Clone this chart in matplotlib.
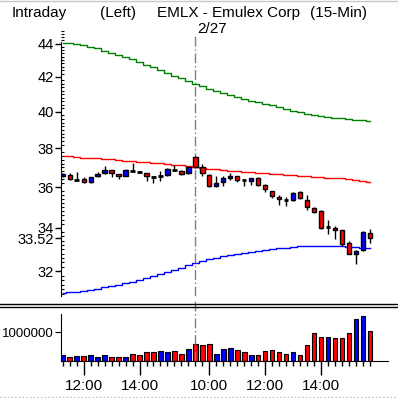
import matplotlib
matplotlib.use('Agg')
from matplotlib import pyplot as plt
from matplotlib.lines import Line2D
from matplotlib.ticker import FixedLocator, FixedFormatter, NullFormatter

plt.rcParams['font.family'] = ['Liberation Sans', 'DejaVu Sans']

# 15-min bars: 2/26 from 11:15, 2/27 from 9:30
opens = [36.58, 36.62, 36.37, 36.43, 36.25, 36.55, 36.70, 36.87, 36.67, 36.58,
         36.83, 36.75, 36.73, 36.53, 36.58, 36.63, 36.88, 36.80, 36.70, 37.55,
         37.00, 36.62, 36.03, 36.25, 36.45, 36.58, 36.37, 36.30, 36.47, 36.08,
         35.82, 35.52, 35.37, 35.33, 35.75, 35.37, 34.95, 34.80, 34.03, 34.00,
         33.88, 33.30, 32.79, 32.97, 33.77]
closes = [36.64, 36.40, 36.37, 36.25, 36.50, 36.67, 36.87, 36.70, 36.57, 36.87,
          36.83, 36.75, 36.55, 36.53, 36.58, 36.92, 36.88, 36.68, 37.03, 37.03,
          36.70, 36.03, 36.22, 36.45, 36.58, 36.38, 36.37, 36.47, 36.08, 35.90,
          35.55, 35.40, 35.37, 35.70, 35.47, 35.00, 34.78, 34.00, 34.03, 33.91,
          33.25, 32.79, 32.94, 33.81, 33.52]
highs = [36.70, 36.70, 36.75, 36.50, 36.53, 36.75, 37.07, 36.87, 36.67, 36.92,
         37.25, 36.80, 36.73, 36.58, 36.83, 36.97, 37.13, 36.87, 37.08, 37.62,
         37.20, 36.67, 36.58, 36.58, 36.70, 36.58, 36.37, 36.47, 36.50, 36.13,
         35.82, 35.58, 35.50, 35.75, 35.80, 35.58, 35.03, 34.87, 34.40, 34.07,
         33.90, 33.38, 32.95, 33.83, 33.97]
lows = [36.50, 36.37, 36.33, 36.20, 36.20, 36.50, 36.67, 36.50, 36.42, 36.55,
        36.75, 36.70, 36.30, 36.20, 36.33, 36.58, 36.83, 36.63, 36.67, 36.98,
        36.58, 36.00, 36.00, 36.03, 36.37, 36.25, 36.03, 36.08, 36.05, 35.75,
        35.45, 35.12, 35.08, 35.30, 35.42, 34.87, 34.70, 33.97, 33.69, 33.49,
        33.14, 32.76, 32.32, 32.92, 33.27]

upper_band = [44.05, 44.02, 43.99, 43.90, 43.82, 43.71, 43.58, 43.45, 43.33, 43.19,
              43.04, 42.89, 42.73, 42.56, 42.40, 42.24, 42.07, 41.91, 41.75, 41.59,
              41.45, 41.31, 41.19, 41.07, 40.96, 40.84, 40.71, 40.61, 40.53, 40.41,
              40.36, 40.26, 40.15, 40.06, 39.98, 39.90, 39.83, 39.77, 39.72, 39.68,
              39.64, 39.60, 39.56, 39.52, 39.49]
mid_line = [37.60, 37.58, 37.55, 37.52, 37.50, 37.47, 37.45, 37.42, 37.39, 37.36,
            37.33, 37.31, 37.28, 37.25, 37.22, 37.19, 37.15, 37.12, 37.08, 37.04,
            36.99, 36.93, 36.90, 36.86, 36.83, 36.80, 36.77, 36.75, 36.72, 36.70,
            36.67, 36.65, 36.62, 36.60, 36.57, 36.55, 36.53, 36.50, 36.48, 36.46,
            36.44, 36.40, 36.36, 36.32, 36.28]
lower_band = [31.04, 31.07, 31.10, 31.14, 31.18, 31.23, 31.28, 31.33, 31.39, 31.46,
              31.53, 31.60, 31.68, 31.77, 31.86, 31.95, 32.05, 32.15, 32.26, 32.37,
              32.46, 32.54, 32.61, 32.67, 32.72, 32.78, 32.84, 32.89, 32.94, 32.98,
              33.02, 33.05, 33.08, 33.11, 33.14, 33.16, 33.17, 33.17, 33.17, 33.17,
              33.15, 33.12, 33.09, 33.06, 33.04]

volume = [210000, 130000, 160000, 160000, 200000, 130000, 200000, 130000, 130000, 130000,
          230000, 200000, 300000, 300000, 340000, 300000, 340000, 230000, 410000, 580000,
          550000, 580000, 230000, 410000, 440000, 370000, 300000, 200000, 200000, 340000,
          370000, 300000, 230000, 300000, 200000, 550000, 970000, 830000, 830000, 790000,
          790000, 970000, 1450000, 1570000, 1030000]
volume_dir = list("BRBRBBBRRBRRRRBBRRBRRRBBBRRBRRRRRBRRRRBRRRBBR")

day_break = 19
time_ticks = [3, 11, 21, 29, 37]
time_labels = ['12:00', '14:00', '10:00', '12:00', '14:00']
price_ticks = [32, 33.52, 34, 36, 38, 40, 42, 44]
price_labels = ['32', '33.52', '34', '36', '38', '40', '42', '44']

RED = '#ff0000'
BLUE = '#0000ff'
GREEN = '#008000'

fig = plt.figure(figsize=(3.98, 3.98), dpi=100)
W = H = 398.0


def box(left, top, right, bottom):
    return [left / W, 1 - bottom / H, (right - left) / W, (bottom - top) / H]


ax = fig.add_axes(box(61, 30, 388, 296))
axv = fig.add_axes(box(61, 314, 388, 361))

n = len(opens)
x = list(range(n))
xlim = (-0.25, 46.6)

# price panel
ax.plot(x, upper_band, color=GREEN, lw=1, drawstyle='steps-mid')
ax.plot(x, mid_line, color=RED, lw=1, drawstyle='steps-mid')
ax.plot(x, lower_band, color=BLUE, lw=1, drawstyle='steps-mid')

ax.vlines(x, lows, highs, color='black', lw=1, zorder=3)
for i in x:
    o, c = opens[i], closes[i]
    if c == o:
        ax.hlines(c, i - 0.32, i + 0.32, color='black', lw=2, zorder=4)
    else:
        col = BLUE if c > o else RED
        ax.bar(i, abs(c - o), bottom=min(o, c), width=0.62, color=col,
               edgecolor='black', linewidth=1, zorder=4)

ax.axvline(day_break, ymin=0, ymax=0.98, color='gray', lw=1,
           linestyle=(0, (7, 2, 1, 2)))

ax.set_yscale('log')
ax.set_ylim(30.91, 44.85)
ax.set_xlim(*xlim)
ax.yaxis.set_major_locator(FixedLocator(price_ticks))
ax.yaxis.set_major_formatter(FixedFormatter(price_labels))
minor = [round(31.0 + 0.2 * k, 2) for k in range(70)]
ax.yaxis.set_minor_locator(FixedLocator(minor))
ax.yaxis.set_minor_formatter(NullFormatter())
ax.tick_params(axis='y', which='major', direction='out', length=4, width=1,
               pad=1, labelsize=10.5)
ax.tick_params(axis='y', which='minor', direction='in', length=2.5, width=0.8)
ax.set_xticks([])
for s in ['top', 'right', 'bottom']:
    ax.spines[s].set_visible(False)
ax.spines['left'].set_bounds(30.91, 44.1)

# volume panel
vcols = [BLUE if d == 'B' else RED for d in volume_dir]
axv.bar(x, volume, width=0.66, color=vcols, edgecolor='black', linewidth=0.8)
axv.axvline(day_break, ymin=0, ymax=1.3, color='gray', lw=1,
            linestyle=(0, (7, 2, 1, 2)), clip_on=False)
axv.set_xlim(*xlim)
axv.set_ylim(0, 1640000)
axv.set_yticks([1000000])
axv.set_yticklabels(['1000000'])
axv.tick_params(axis='y', direction='out', length=4, pad=1, labelsize=9.5)
axv.xaxis.set_major_locator(FixedLocator(time_ticks))
axv.xaxis.set_major_formatter(FixedFormatter(time_labels))
axv.xaxis.set_minor_locator(FixedLocator(x))
axv.tick_params(axis='x', which='major', direction='out', length=10, width=1,
                pad=3, labelsize=11)
axv.tick_params(axis='x', which='minor', direction='out', length=3.8, width=1)
for s in ['top', 'right']:
    axv.spines[s].set_visible(False)

# separators and titles
for yy in [304, 306.5]:
    fig.add_artist(Line2D([0, 1], [1 - yy / H, 1 - yy / H], transform=fig.transFigure,
                          color='black', lw=1))
fig.add_artist(Line2D([0, 1], [1 - 0.5 / H, 1 - 0.5 / H], transform=fig.transFigure,
                      color='#c8c8c8', lw=1))
fig.add_artist(Line2D([0, 1], [1 - 397 / H, 1 - 397 / H], transform=fig.transFigure,
                      color='#bbbbbb', lw=1, linestyle=':'))

ty = 1 - 17 / H
fig.text(12 / W, ty, 'Intraday', fontsize=11, va='baseline')
fig.text(100 / W, ty, '(Left)', fontsize=11, va='baseline')
fig.text(157 / W, ty, 'EMLX - Emulex Corp', fontsize=11, va='baseline')
fig.text(310 / W, ty, '(15-Min)', fontsize=11, va='baseline')
fig.text(197 / W, 1 - 33 / H, '2/27', fontsize=11, va='baseline')

fig.savefig('out.png', dpi=100, facecolor='white')
